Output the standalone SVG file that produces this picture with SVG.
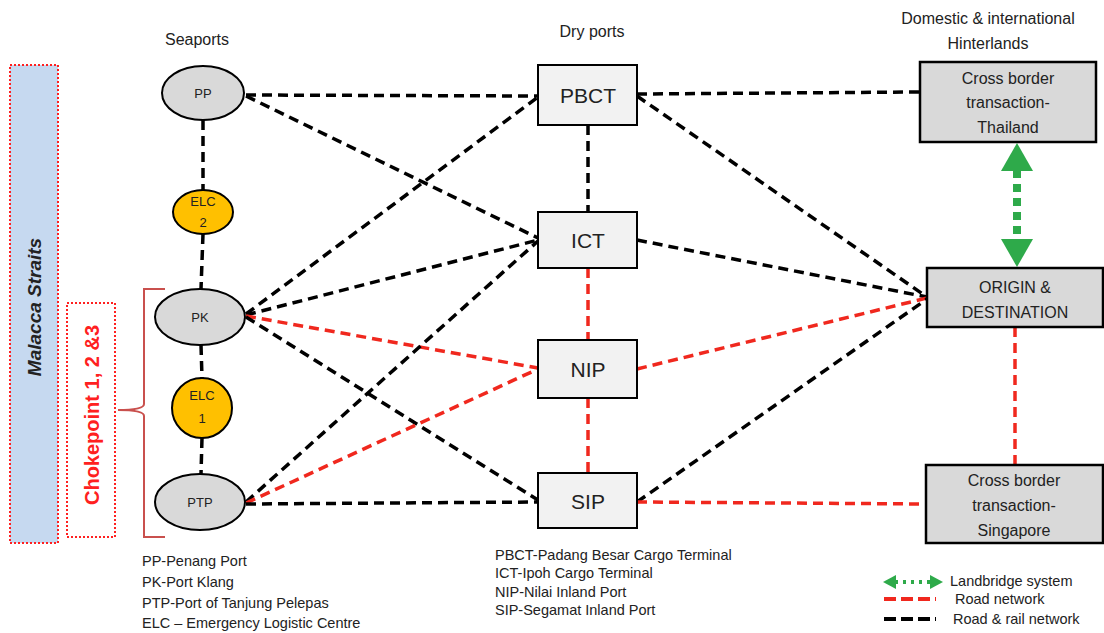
<svg xmlns="http://www.w3.org/2000/svg" width="1104" height="633" viewBox="0 0 1104 633">
<style>
text{font-family:"Liberation Sans",Arial,sans-serif;fill:#222}
.blk{stroke:#000;stroke-width:3.5;stroke-dasharray:10 6;fill:none}
.red{stroke:#f0281e;stroke-width:3.5;stroke-dasharray:10 6;fill:none}
.port{fill:#d9d9d9;stroke:#000;stroke-width:2}
.elc{fill:#ffc000;stroke:#000;stroke-width:2}
.dry{fill:#f2f2f2;stroke:#000;stroke-width:2}
.hin{fill:#d9d9d9;stroke:#000;stroke-width:2.5}
.nt{font-size:13px;text-anchor:middle}
.dt{font-size:21px;text-anchor:middle}
.ht{font-size:16px;text-anchor:middle}
.lg{font-size:14.5px}
</style>

<rect x="10" y="65" width="48" height="478" fill="#c6d9f0" stroke="#ff2020" stroke-width="2" stroke-dasharray="2 2"/>
<text transform="translate(41,307) rotate(-90)" font-size="19" font-weight="bold" font-style="italic" text-anchor="middle">Malacca Straits</text>
<rect x="67" y="303" width="48" height="234" fill="#fff" stroke="#ff2020" stroke-width="2" stroke-dasharray="2 2"/>
<text transform="translate(99,415) rotate(-90)" font-size="20" font-weight="bold" text-anchor="middle" style="fill:#ff2020">Chokepoint 1, 2 &amp;3</text>
<path d="M165,289 H144 V404 Q144,410 118,410 Q144,410 144,416 V537 H165" fill="none" stroke="#c9504d" stroke-width="2"/>

<text x="197" y="45" class="ht">Seaports</text>
<text x="592" y="37" class="ht">Dry ports</text>
<text x="988" y="24" class="ht">Domestic &amp; international</text>
<text x="988" y="49" class="ht">Hinterlands</text>

<g id="connectors">
<line class="blk" x1="203" y1="120" x2="203" y2="190"/>
<line class="blk" x1="203" y1="234" x2="201" y2="289"/>
<line class="blk" x1="201" y1="345" x2="202" y2="378"/>
<line class="blk" x1="202" y1="438" x2="201" y2="474"/>
<line class="blk" x1="246" y1="95" x2="538" y2="96"/>
<line class="blk" x1="246" y1="96" x2="538" y2="238"/>
<line class="blk" x1="246" y1="314" x2="538" y2="97"/>
<line class="blk" x1="246" y1="315" x2="538" y2="240"/>
<line class="red" x1="246" y1="316" x2="538" y2="368"/>
<line class="blk" x1="246" y1="317" x2="538" y2="500"/>
<line class="blk" x1="246" y1="502" x2="538" y2="241"/>
<line class="red" x1="246" y1="503" x2="538" y2="369"/>
<line class="blk" x1="246" y1="504" x2="538" y2="502"/>
<line class="blk" x1="588" y1="125" x2="588" y2="212"/>
<line class="red" x1="588" y1="268" x2="588" y2="340"/>
<line class="red" x1="588" y1="398" x2="588" y2="473"/>
<line class="blk" x1="637" y1="94" x2="920" y2="92"/>
<line class="blk" x1="637" y1="96" x2="927" y2="297"/>
<line class="blk" x1="637" y1="240" x2="927" y2="297"/>
<line class="red" x1="637" y1="369" x2="927" y2="298"/>
<line class="blk" x1="637" y1="502" x2="927" y2="299"/>
<line class="red" x1="637" y1="502" x2="926" y2="504"/>
<line class="red" x1="1015" y1="327" x2="1015" y2="465"/>
<line x1="1017" y1="170" x2="1017" y2="240" stroke="#2eaa4a" stroke-width="8" stroke-dasharray="8 6"/>
<path d="M1017,143 L1033,171 L1001,171 Z" fill="#2eaa4a"/>
<path d="M1017,267 L1033,239 L1001,239 Z" fill="#2eaa4a"/>
</g>

<g id="PP"><ellipse class="port" cx="203" cy="93" rx="41" ry="27"/><text x="203" y="98" class="nt">PP</text></g>
<g id="ELC2"><ellipse class="elc" cx="203" cy="212" rx="30" ry="22"/><text x="203" y="206" class="nt">ELC</text><text x="203" y="227" class="nt">2</text></g>
<g id="PK"><ellipse class="port" cx="200" cy="317" rx="45" ry="28"/><text x="200" y="322" class="nt">PK</text></g>
<g id="ELC1"><ellipse class="elc" cx="202" cy="408" rx="30" ry="30"/><text x="202" y="400" class="nt">ELC</text><text x="202" y="423" class="nt">1</text></g>
<g id="PTP"><ellipse class="port" cx="200" cy="502" rx="45" ry="28"/><text x="200" y="507" class="nt">PTP</text></g>

<g id="PBCT"><rect class="dry" x="538" y="65" width="99" height="60"/><text x="588" y="103" class="dt">PBCT</text></g>
<g id="ICT"><rect class="dry" x="538" y="212" width="99" height="56"/><text x="588" y="248" class="dt">ICT</text></g>
<g id="NIP"><rect class="dry" x="538" y="340" width="99" height="58"/><text x="588" y="377" class="dt">NIP</text></g>
<g id="SIP"><rect class="dry" x="538" y="473" width="99" height="55"/><text x="588" y="509" class="dt">SIP</text></g>

<g id="Thailand"><rect class="hin" x="920" y="62" width="176" height="80"/><text x="1008" y="84" class="ht">Cross border</text><text x="1008" y="108" class="ht">transaction-</text><text x="1008" y="133" class="ht">Thailand</text></g>
<g id="Origin"><rect class="hin" x="927" y="268" width="176" height="59"/><text x="1015" y="293" class="ht">ORIGIN &amp;</text><text x="1015" y="318" class="ht">DESTINATION</text></g>
<g id="Singapore"><rect class="hin" x="926" y="465" width="177" height="78"/><text x="1014" y="486" class="ht">Cross border</text><text x="1014" y="511" class="ht">transaction-</text><text x="1014" y="536" class="ht">Singapore</text></g>

<g id="legend">
<text x="142" y="566" class="lg">PP-Penang Port</text>
<text x="142" y="587" class="lg">PK-Port Klang</text>
<text x="142" y="608" class="lg">PTP-Port of Tanjung Pelepas</text>
<text x="142" y="628" class="lg">ELC – Emergency Logistic Centre</text>
<text x="495" y="560" class="lg">PBCT-Padang Besar Cargo Terminal</text>
<text x="495" y="578" class="lg">ICT-Ipoh Cargo Terminal</text>
<text x="495" y="597" class="lg">NIP-Nilai Inland Port</text>
<text x="495" y="615" class="lg">SIP-Segamat Inland Port</text>
<line x1="895" y1="582" x2="931" y2="582" stroke="#2eaa4a" stroke-width="4" stroke-dasharray="3 5"/>
<path d="M883,582 L896,575 L896,589 Z" fill="#2eaa4a"/>
<path d="M943,582 L930,575 L930,589 Z" fill="#2eaa4a"/>
<text x="950" y="586" class="lg">Landbridge system</text>
<line x1="884" y1="599" x2="936" y2="599" stroke="#f0281e" stroke-width="4" stroke-dasharray="12 5"/>
<text x="955" y="604" class="lg">Road network</text>
<line x1="884" y1="619" x2="936" y2="619" stroke="#000" stroke-width="4" stroke-dasharray="12 5"/>
<text x="953" y="624" class="lg">Road &amp; rail network</text>
</g>
</svg>
